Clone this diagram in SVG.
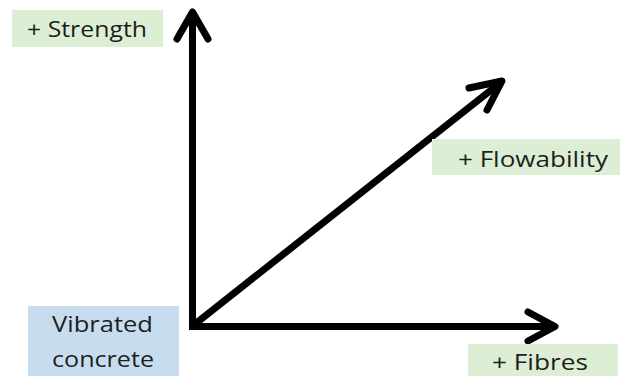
<svg xmlns="http://www.w3.org/2000/svg" width="622" height="376" viewBox="0 0 622 376">
<style>
.lbl{font-family:"Open Sans","Noto Sans","Liberation Sans",sans-serif;font-size:21px;fill:#1e1e1e}
.g{fill:#dcefd4}
.b{fill:#c7ddef}
.ax{fill:none;stroke:#000;stroke-width:7;stroke-linecap:round;stroke-linejoin:round}
</style>
<rect width="622" height="376" fill="#fff"/>
<g id="connectors">
<path class="ax" d="M192.5,327 V14" style="stroke-linecap:butt"/>
<path class="ax" d="M177,39 L192.5,12 L208,39"/>
<path class="ax" d="M189,326.5 H553" style="stroke-linecap:butt"/>
<path class="ax" d="M528,312 L555,326.5 L528,341"/>
<path class="ax" d="M192.5,326 L500,83" style="stroke-linecap:butt"/>
<path class="ax" d="M469,88 L502,81 L487,110"/>
</g>
<g id="strength">
<rect class="g" x="12" y="10" width="151" height="37"/>
<text class="lbl" x="27" y="37" textLength="120" lengthAdjust="spacingAndGlyphs">+ Strength</text>
</g>
<g id="flowability">
<rect class="g" x="432" y="139" width="188" height="36"/>
<text class="lbl" x="458" y="167" textLength="150" lengthAdjust="spacingAndGlyphs">+ Flowability</text>
</g>
<g id="vibrated">
<rect class="b" x="28" y="306" width="151" height="70"/>
<text class="lbl" x="52" y="332" textLength="101" lengthAdjust="spacingAndGlyphs">Vibrated</text>
<text class="lbl" x="52" y="367" textLength="102" lengthAdjust="spacingAndGlyphs">concrete</text>
</g>
<g id="fibres">
<rect class="g" x="468" y="344" width="150" height="32"/>
<text class="lbl" x="492" y="370" textLength="96" lengthAdjust="spacingAndGlyphs">+ Fibres</text>
</g>
</svg>
